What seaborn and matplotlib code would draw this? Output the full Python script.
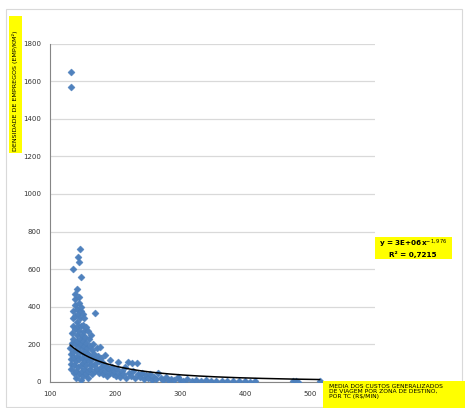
import numpy as np
import pandas as pd
import matplotlib
matplotlib.use("Agg")
import matplotlib.pyplot as plt
from matplotlib.patches import Rectangle
from matplotlib.ticker import MultipleLocator, FuncFormatter
import seaborn as sns

# custo medio generalizado (x) e densidade de emprego (y)
custo = [131, 132, 132, 133, 133, 134, 134, 135, 135, 135, 133, 133, 136, 136, 136, 137, 137, 137,
         138, 138, 139, 139, 139, 139, 140, 140, 140, 140, 141, 141, 141, 142, 142, 142, 143, 143,
         143, 143, 144, 144, 144, 145, 145, 145, 145, 146, 146, 146, 146, 147, 147, 147, 148, 148,
         148, 148, 149, 149, 149, 150, 150, 150, 151, 151, 151, 152, 152, 153, 153, 153, 154, 154,
         155, 155, 155, 156, 156, 157, 157, 158, 158, 159, 159, 160, 160, 161, 161, 162, 163, 163,
         164, 165, 165, 166, 167, 168, 169, 169, 170, 171, 172, 173, 174, 175, 176, 177, 178, 179,
         180, 181, 182, 183, 185, 185, 187, 188, 190, 192, 193, 195, 197, 199, 201, 203, 205, 206,
         208, 210, 213, 215, 217, 220, 221, 224, 226, 228, 231, 234, 236, 239, 242, 245, 248, 251,
         254, 257, 260, 263, 266, 270, 274, 278, 282, 286, 290, 297, 300, 305, 310, 318, 325, 332,
         340, 348, 356, 365, 373, 382, 390, 400, 408, 415, 474, 478, 482, 515]
densidade = [180, 150, 120, 95, 70, 210, 260, 300, 340, 600, 1650, 1570, 380, 230, 160, 130, 90, 50,
             440, 470, 410, 350, 280, 200, 170, 110, 60, 20, 390, 320, 250, 495, 220, 140, 665, 360,
             300, 80, 450, 190, 40, 640, 420, 270, 120, 707, 340, 230, 160, 380, 90, 10, 559, 400,
             300, 200, 250, 130, 60, 360, 180, 100, 303, 220, 30, 270, 150, 340, 190, 70, 240, 110,
             290, 160, 40, 210, 90, 180, 130, 270, 60, 150, 20, 230, 110, 190, 70, 140, 250, 90,
             170, 120, 40, 200, 90, 150, 367, 60, 130, 100, 180, 70, 140, 50, 110, 186, 80, 130,
             60, 100, 40, 90, 144, 60, 80, 30, 70, 117, 50, 80, 40, 60, 30, 70, 106, 45,
             25, 60, 40, 80, 20, 106, 50, 30, 101, 60, 20, 101, 40, 25, 50, 15, 35, 20,
             40, 10, 25, 15, 48, 20, 10, 25, 12, 18, 8, 27, 12, 6, 15, 5, 10, 4,
             8, 3, 6, 4, 7, 3, 5, 4, 2, 5, 3, 6, 2, 4]

# linha de tendencia potencia (coeficientes do rotulo)
coef_a = 3.0e6
coef_b = -1.976
eq_text = "y = 3E+06x$^{-1,976}$\nR² = 0,7215"

df = pd.DataFrame({"custo": custo, "densidade": densidade})
xs = np.linspace(min(custo), max(custo), 200)
trend = pd.DataFrame({"custo": xs, "densidade": coef_a * xs ** coef_b})

sns.set_style("white")

fig = plt.figure(figsize=(4.65, 4.08), dpi=100)
ax = fig.add_axes([50 / 465, 26 / 408, 325 / 465, 338.4 / 408])

sns.scatterplot(data=df, x="custo", y="densidade", marker="D", s=13, color="#4F81BD",
                edgecolor="#4A7EBB", linewidth=0.3, ax=ax, zorder=3)
sns.lineplot(data=trend, x="custo", y="densidade", color="black", linewidth=1.1, ax=ax, zorder=4)

ax.set_xlim(100, 600)
ax.set_ylim(0, 1800)
ax.xaxis.set_major_locator(MultipleLocator(100))
ax.xaxis.set_minor_locator(MultipleLocator(20))
# o rotulo 600 fica escondido pela caixa do titulo do eixo x
ax.xaxis.set_major_formatter(FuncFormatter(lambda v, p: "" if v >= 600 else f"{v:.0f}"))
ax.yaxis.set_major_locator(MultipleLocator(200))
ax.yaxis.set_minor_locator(MultipleLocator(40))
ax.grid(axis="y", which="major", color="#D9D9D9", linewidth=0.9)
ax.set_axisbelow(True)
ax.set_xlabel("")
ax.set_ylabel("")
for s in ["top", "right"]:
    ax.spines[s].set_visible(False)
for s in ["left", "bottom"]:
    ax.spines[s].set_color("#868686")
    ax.spines[s].set_linewidth(0.8)
ax.tick_params(which="both", direction="inout", color="#868686", width=0.6)
ax.tick_params(which="major", length=5, labelsize=5, labelcolor="#333333", pad=4)
ax.tick_params(which="minor", length=3)

# moldura do grafico
fig.patches.append(Rectangle((6 / 465, 1 / 408), 456 / 465, 398 / 408, transform=fig.transFigure,
                             fill=False, edgecolor="#D9D9D9", linewidth=0.8))

# rotulo do eixo y (caixa amarela)
fig.patches.append(Rectangle((9 / 465, 1 - 153 / 408), 13 / 465, 137 / 408, transform=fig.transFigure,
                             facecolor="#FFFF00", edgecolor="none", zorder=2))
fig.text(15.5 / 465, 1 - 91 / 408, "DENSIDADE DE EMPREGOS (EMP/KM²)", rotation=90,
         ha="center", va="center", fontsize=4.6, color="black", zorder=3)

# rotulo do eixo x (caixa amarela)
fig.patches.append(Rectangle((323 / 465, 0), 142 / 465, 27 / 408, transform=fig.transFigure,
                             facecolor="#FFFF00", edgecolor="none", zorder=2))
fig.text(329 / 465, 1 - 384 / 408,
         "MEDIA DOS CUSTOS GENERALIZADOS\nDE VIAGEM POR ZONA DE DESTINO,\nPOR TC (R$/MIN)",
         ha="left", va="top", fontsize=4.3, color="black", linespacing=1.05, zorder=3)

# equacao da tendencia
fig.patches.append(Rectangle((375 / 465, 1 - 259 / 408), 77 / 465, 22 / 408, transform=fig.transFigure,
                             facecolor="#FFFF00", edgecolor="none", zorder=2))
fig.text(413 / 465, 1 - 248 / 408, eq_text, ha="center", va="center", fontsize=5.2,
         fontweight="bold", color="black", linespacing=1.2, zorder=3)

fig.savefig("out.png", dpi=100)
